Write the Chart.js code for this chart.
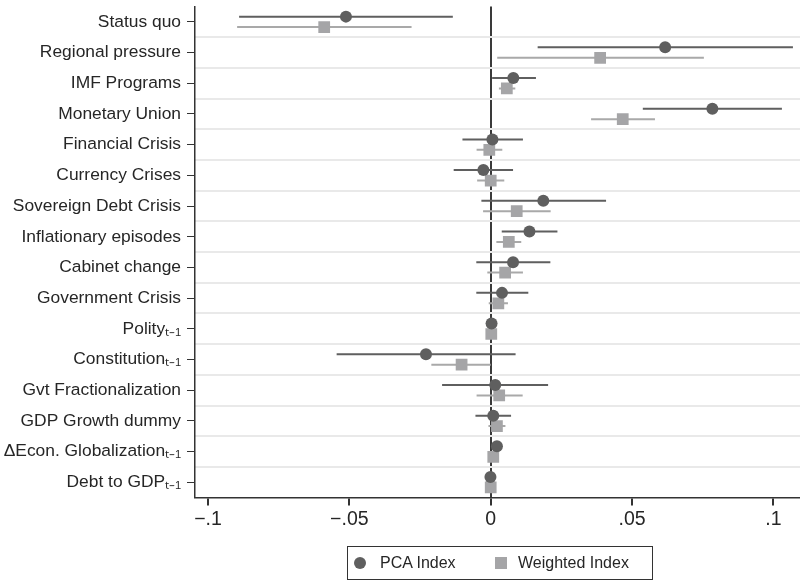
<!DOCTYPE html>
<html>
<head>
<meta charset="utf-8">
<script src="https://cdn.jsdelivr.net/npm/chart.js@4"></script>
<style>
    html, body { margin: 0; padding: 0; background: #fff; }
    #wrap { position: relative; width: 800px; height: 583px; }
    #legend {
        position: absolute; left: 347px; top: 546px; width: 306px; height: 34px;
        border: 1px solid #333; box-sizing: border-box;
        font: 16px "Liberation Sans", Arial, sans-serif; color: #262626;
    }
    #legend span { position: absolute; top: 7px; }
    .mk { position: absolute; }
</style>
</head>
<body>
<div id="wrap">
    <canvas id="chartCoef" width="800" height="583"></canvas>
    <div id="legend">
        <div class="mk" style="left:6px;top:10px;width:12px;height:12px;border-radius:50%;background:#5f5f5f"></div>
        <span style="left:32px">PCA Index</span>
        <div class="mk" style="left:147px;top:10px;width:12px;height:12px;background:#a5a5a7"></div>
        <span style="left:170px">Weighted Index</span>
    </div>
</div>
<script>
// Variables (top to bottom)
const categories = [
    "Status quo", "Regional pressure", "IMF Programs", "Monetary Union",
    "Financial Crisis", "Currency Crises", "Sovereign Debt Crisis", "Inflationary episodes",
    "Cabinet change", "Government Crisis", "Polity\u209c\u208b\u2081", "Constitution\u209c\u208b\u2081",
    "Gvt Fractionalization", "GDP Growth dummy", "\u0394Econ. Globalization\u209c\u208b\u2081", "Debt to GDP\u209c\u208b\u2081"
];

// PCA Index : coefficient + confidence interval
const pcaCoef = [-0.0512, 0.0617, 0.0080, 0.0784, 0.0006, -0.0026, 0.0186, 0.0137, 0.0079, 0.0040, 0.0003, -0.0229, 0.0016, 0.0009, 0.0022, -0.0001];
const pcaLo   = [-0.0890, 0.0166, 0.0005, 0.0538, -0.0100, -0.0131, -0.0033, 0.0039, -0.0051, -0.0051, -0.0002, -0.0545, -0.0172, -0.0054, 0.0015, -0.0005];
const pcaHi   = [-0.0134, 0.1069, 0.0160, 0.1030, 0.0114, 0.0079, 0.0408, 0.0236, 0.0211, 0.0133, 0.0008, 0.0088, 0.0203, 0.0072, 0.0030, 0.0003];

// Weighted Index : coefficient + confidence interval
const wCoef = [-0.0589, 0.0387, 0.0057, 0.0467, -0.0005, 0.0000, 0.0092, 0.0064, 0.0051, 0.0027, 0.0002, -0.0103, 0.0030, 0.0022, 0.0009, 0.0000];
const wLo   = [-0.0897, 0.0023, 0.0029, 0.0355, -0.0050, -0.0048, -0.0027, 0.0020, -0.0012, -0.0007, -0.0002, -0.0210, -0.0050, -0.0008, 0.0004, -0.0004];
const wHi   = [-0.0280, 0.0754, 0.0087, 0.0581, 0.0041, 0.0048, 0.0212, 0.0108, 0.0114, 0.0061, 0.0006, 0.0000, 0.0113, 0.0052, 0.0014, 0.0004];

const xTicks = [-0.1, -0.05, 0, 0.05, 0.1];
const xTickLabels = ["\u2212.1", "\u2212.05", "0", ".05", ".1"];

const OFFSET = 0.17;   // vertical shift of each series within its row
const FONT = "'Liberation Sans', Arial, sans-serif";

// segments [lo, hi] separated by a gap
function ciSegments(lo, hi, shift) {
    const pts = [];
    lo.forEach((l, i) => {
        pts.push({ x: l, y: i + 1 + shift });
        pts.push({ x: hi[i], y: i + 1 + shift });
        pts.push({ x: null, y: null });
    });
    return pts;
}

function pointData(coef, shift) {
    return coef.map((c, i) => ({ x: c, y: i + 1 + shift }));
}

// no extra room for half labels at the ends of the axes
function noPad(s) {
    s.paddingTop = 0;
    s.paddingBottom = 0;
    s.paddingLeft = 0;
    s.paddingRight = 0;
}

const chartCoef = new Chart(document.getElementById("chartCoef"), {
    type: "scatter",
    data: {
        datasets: [
            {
                label: "PCA Index",
                data: pointData(pcaCoef, -OFFSET),
                pointStyle: "circle",
                pointRadius: 6,
                backgroundColor: "#5f5f5f",
                borderColor: "#5f5f5f",
                borderWidth: 0,
                order: 0
            },
            {
                label: "Weighted Index",
                data: pointData(wCoef, OFFSET),
                pointStyle: "rect",
                pointRadius: 8.3,
                backgroundColor: "#a5a5a7",
                borderColor: "#a5a5a7",
                borderWidth: 0,
                order: 1
            },
            {
                label: "PCA CI",
                data: ciSegments(pcaLo, pcaHi, -OFFSET),
                showLine: true,
                spanGaps: false,
                borderColor: "#5f5f5f",
                borderWidth: 2,
                pointRadius: 0,
                order: 2
            },
            {
                label: "Weighted CI",
                data: ciSegments(wLo, wHi, OFFSET),
                showLine: true,
                spanGaps: false,
                borderColor: "#a9a9a9",
                borderWidth: 2,
                pointRadius: 0,
                order: 3
            }
        ]
    },
    options: {
        responsive: false,
        animation: false,
        layout: { autoPadding: false, padding: { top: 6.5, right: 0, bottom: 50, left: 0 } },
        plugins: {
            legend: { display: false },
            tooltip: { enabled: false }
        },
        scales: {
            x: {
                type: "linear",
                min: -0.1046,
                max: 0.1094,
                afterBuildTicks: s => { s.ticks = xTicks.map(v => ({ value: v })); },
                afterFit: noPad,
                ticks: {
                    font: { family: FONT, size: 19.5 },
                    color: "#262626",
                    padding: 2,
                    maxRotation: 0,
                    callback: v => xTickLabels[xTicks.indexOf(v)]
                },
                grid: {
                    color: c => (c.tick && c.tick.value === 0) ? "#3a3a3a" : "rgba(0,0,0,0)",
                    lineWidth: 2,
                    tickColor: "#333",
                    tickLength: 8
                },
                border: { display: true, color: "#333", width: 1.5 }
            },
            y: {
                type: "linear",
                position: "left",
                reverse: true,
                min: 0.5,
                max: 16.5,
                afterBuildTicks: s => { s.ticks = categories.map((_, i) => ({ value: i + 1 })); },
                afterFit: s => { s.width = 195; noPad(s); },
                ticks: {
                    font: { family: FONT, size: 17.4 },
                    color: "#262626",
                    padding: 6,
                    autoSkip: false,
                    callback: v => categories[v - 1]
                },
                grid: {
                    drawOnChartArea: false,
                    tickColor: "#333",
                    tickLength: 8
                },
                border: { display: true, color: "#333", width: 1.5 }
            },
            yGrid: {
                type: "linear",
                position: "left",
                reverse: true,
                min: 0.5,
                max: 16.5,
                afterBuildTicks: s => {
                    s.ticks = categories.slice(1).map((_, i) => ({ value: i + 1.5 }));
                },
                afterFit: s => { s.width = 0; noPad(s); },
                ticks: { display: false },
                grid: { color: "#e9e9e9", lineWidth: 2, drawTicks: false },
                border: { display: false }
            }
        }
    }
});
</script>
</body>
</html>
